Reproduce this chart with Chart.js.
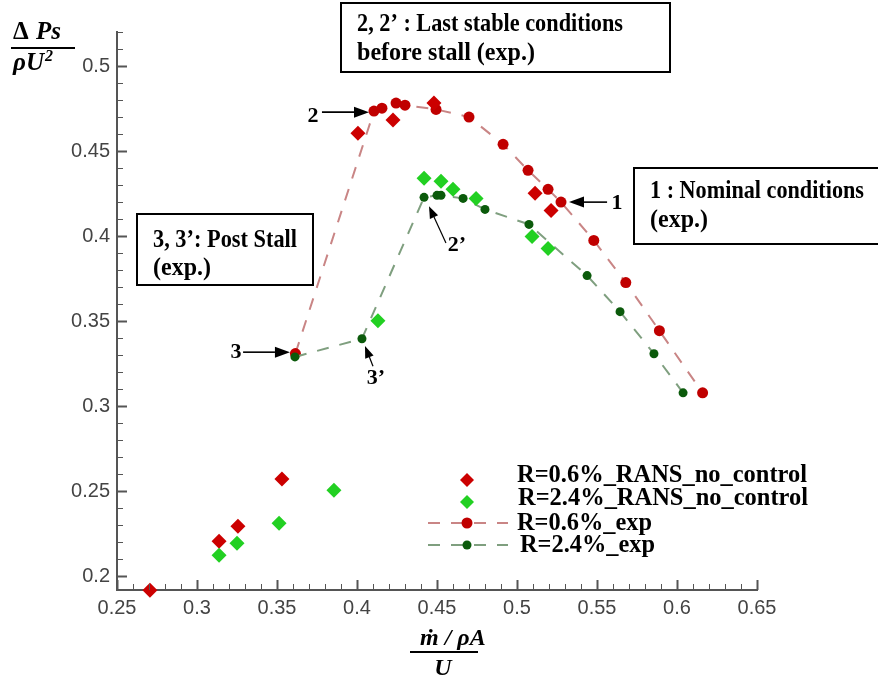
<!DOCTYPE html>
<html>
<head>
<meta charset="utf-8">
<script src="https://cdn.jsdelivr.net/npm/chart.js@4.4.1/dist/chart.umd.min.js"></script>
<style>
  html, body { margin: 0; padding: 0; background: #fff; }
  #c { display: block; }
</style>
</head>
<body>
<canvas id="c" width="878" height="678"></canvas>
<script>
// tick labels
const xTicks = [0.25, 0.3, 0.35, 0.4, 0.45, 0.5, 0.55, 0.6, 0.65];
const yTicks = [0.2, 0.25, 0.3, 0.35, 0.4, 0.45, 0.5];

// R=0.6% RANS no control (red diamonds)
const rans06X = [0.2706, 0.3138, 0.3256, 0.3531, 0.4006, 0.4225, 0.4481, 0.5113, 0.5213];
const rans06Y = [0.1918, 0.2207, 0.2295, 0.2572, 0.4605, 0.4682, 0.4782, 0.4252, 0.4151];

// R=2.4% RANS no control (green diamonds)
const rans24X = [0.3138, 0.325, 0.3513, 0.3856, 0.4131, 0.4419, 0.4525, 0.46, 0.4744, 0.5094, 0.5194];
const rans24Y = [0.2124, 0.2195, 0.2313, 0.2507, 0.3503, 0.434, 0.4322, 0.4275, 0.4222, 0.3998, 0.3928];

// R=0.6% experiment
const exp06X = [0.3615, 0.4106, 0.4156, 0.4244, 0.43, 0.4494, 0.47, 0.4913, 0.5069, 0.5194, 0.5275, 0.548, 0.568, 0.589, 0.616];
const exp06Y = [0.331, 0.4735, 0.4752, 0.4782, 0.477, 0.4745, 0.470, 0.454, 0.4387, 0.4275, 0.420, 0.3975, 0.3727, 0.3444, 0.3079];

// R=2.4% experiment
const exp24X = [0.3612, 0.4031, 0.4419, 0.45, 0.4525, 0.4663, 0.48, 0.5075, 0.5438, 0.5644, 0.5856, 0.6038];
const exp24Y = [0.329, 0.3397, 0.4228, 0.424, 0.424, 0.4222, 0.4157, 0.4069, 0.3768, 0.3556, 0.3309, 0.3079];

const RED_D = "#cc0000", GREEN_D = "#22d022";
const RED_C = "#c00000", GREEN_C = "#0b5a0b";
const RED_L = "#c98585", GREEN_L = "#7f9f7f";
const SERIF = '"Liberation Serif", "Times New Roman", serif';
const SANS = '"Liberation Sans", Arial, Helvetica, sans-serif';

const pts = (xs, ys) => xs.map((x, i) => ({ x: x, y: ys[i] }));

function arrow(ctx, x1, y1, x2, y2, lw, hl, hw) {
  const a = Math.atan2(y2 - y1, x2 - x1);
  const bx = x2 - hl * Math.cos(a), by = y2 - hl * Math.sin(a);
  ctx.save();
  ctx.strokeStyle = "#000";
  ctx.fillStyle = "#000";
  ctx.lineWidth = lw;
  ctx.beginPath();
  ctx.moveTo(x1, y1);
  ctx.lineTo(bx, by);
  ctx.stroke();
  ctx.beginPath();
  ctx.moveTo(x2, y2);
  ctx.lineTo(bx + hw / 2 * Math.sin(a), by - hw / 2 * Math.cos(a));
  ctx.lineTo(bx - hw / 2 * Math.sin(a), by + hw / 2 * Math.cos(a));
  ctx.closePath();
  ctx.fill();
  ctx.restore();
}

function diamond(ctx, x, y, r, color) {
  ctx.fillStyle = color;
  ctx.beginPath();
  ctx.moveTo(x - r, y); ctx.lineTo(x, y - r); ctx.lineTo(x + r, y); ctx.lineTo(x, y + r);
  ctx.closePath();
  ctx.fill();
}

function dot(ctx, x, y, r, color) {
  ctx.fillStyle = color;
  ctx.beginPath();
  ctx.arc(x, y, r, 0, Math.PI * 2);
  ctx.fill();
}

const overlay = {
  id: "overlay",
  afterDraw(chart) {
    const ctx = chart.ctx;
    const xs = chart.scales.x, ys = chart.scales.y;
    const area = chart.chartArea;
    const px = v => xs.getPixelForValue(v);
    const py = v => ys.getPixelForValue(v);
    ctx.save();

    // inward tick marks
    ctx.strokeStyle = "#555";
    for (let i = 20; i <= 52; i++) {
      const y = Math.round(py(i / 100)) + 0.5;
      const major = i % 5 === 0;
      ctx.lineWidth = major ? 2 : 1;
      ctx.beginPath();
      ctx.moveTo(area.left, y);
      ctx.lineTo(area.left + (major ? 10 : 6), y);
      ctx.stroke();
    }
    for (let i = 25; i <= 65; i++) {
      const x = Math.round(px(i / 100)) + 0.5;
      const major = i % 5 === 0;
      ctx.lineWidth = major ? 2 : 1;
      ctx.beginPath();
      ctx.moveTo(x, area.bottom);
      ctx.lineTo(x, area.bottom - (major ? 10 : 6));
      ctx.stroke();
    }

    // axis titles
    ctx.fillStyle = "#000";
    ctx.textBaseline = "alphabetic";
    ctx.textAlign = "left";
    ctx.font = "bold 25px " + SERIF;
    ctx.fillText("\u0394", 13, 39);
    ctx.font = "italic bold 25px " + SERIF;
    ctx.fillText("Ps", 36, 39);
    ctx.fillText("\u03c1U", 13, 70);
    const uw = ctx.measureText("\u03c1U").width;
    ctx.font = "italic bold 16px " + SERIF;
    ctx.fillText("2", 13 + uw + 1, 61);
    ctx.fillRect(11, 47, 64, 2);

    ctx.font = "italic bold 24px " + SERIF;
    ctx.fillText("\u1e41 / \u03c1A", 420, 645);
    ctx.fillRect(410, 651, 68, 2);
    ctx.textAlign = "center";
    ctx.fillText("U", 443, 675);

    // text boxes
    ctx.textAlign = "left";
    ctx.lineWidth = 2;
    ctx.strokeStyle = "#000";
    const boxes = [
      { x: 341, y: 3, w: 329, h: 69, lines: ["2, 2\u2019 : Last stable conditions", "before stall (exp.)"], b: [31, 60], widths: [266, 178] },
      { x: 634, y: 168, w: 250, h: 76, lines: ["1 : Nominal conditions", "(exp.)"], b: [198, 227], widths: [214, 58] },
      { x: 137, y: 214, w: 176, h: 71, lines: ["3, 3\u2019: Post Stall", "(exp.)"], b: [247, 275], widths: [144, 58] }
    ];
    boxes.forEach(bx => {
      ctx.fillStyle = "#fff";
      ctx.fillRect(bx.x, bx.y, bx.w, bx.h);
      ctx.strokeRect(bx.x, bx.y, bx.w, bx.h);
      ctx.fillStyle = "#000";
      ctx.font = "bold 25px " + SERIF;
      bx.lines.forEach((t, i) => ctx.fillText(t, bx.x + 16, bx.b[i], bx.widths[i]));
    });

    // point labels with arrows (placed in data units)
    ctx.font = "bold 22px " + SERIF;
    ctx.textAlign = "center";
    ctx.textBaseline = "middle";
    ctx.fillStyle = "#000";
    ctx.fillText("2", px(0.3725), py(0.4705));
    arrow(ctx, px(0.3781), py(0.4729), px(0.4075), py(0.4729), 1.6, 15, 11);
    ctx.fillText("1", px(0.5625), py(0.4195));
    arrow(ctx, px(0.5563), py(0.42), px(0.5325), py(0.42), 1.6, 15, 11);
    ctx.fillText("3", px(0.3244), py(0.3318));
    arrow(ctx, px(0.3288), py(0.3318), px(0.3581), py(0.3318), 1.6, 15, 11);
    ctx.fillText("3\u2019", px(0.4118), py(0.3165));
    arrow(ctx, px(0.41), py(0.3235), px(0.405), py(0.3355), 1.2, 12, 9);
    ctx.fillText("2\u2019", px(0.4625), py(0.3945));
    arrow(ctx, px(0.4556), py(0.3959), px(0.445), py(0.4176), 1.2, 12, 9);

    // legend
    ctx.textAlign = "left";
    ctx.textBaseline = "alphabetic";
    ctx.font = "bold 25px " + SERIF;
    diamond(ctx, 467, 480, 7, RED_D);
    diamond(ctx, 467, 502, 7, GREEN_D);
    ctx.lineWidth = 2;
    ctx.setLineDash([12, 11]);
    ctx.strokeStyle = RED_L;
    ctx.beginPath(); ctx.moveTo(428, 523); ctx.lineTo(508, 523); ctx.stroke();
    ctx.strokeStyle = GREEN_L;
    ctx.beginPath(); ctx.moveTo(428, 545); ctx.lineTo(508, 545); ctx.stroke();
    ctx.setLineDash([]);
    dot(ctx, 467, 523, 5.5, RED_C);
    dot(ctx, 467, 545, 4.5, GREEN_C);
    ctx.fillStyle = "#000";
    ctx.fillText("R=0.6%_RANS_no_control", 517, 482, 290);
    ctx.fillText("R=2.4%_RANS_no_control", 518, 505, 290);
    ctx.fillText("R=0.6%_exp", 517, 530, 135);
    ctx.fillText("R=2.4%_exp", 520, 552, 135);

    ctx.restore();
  }
};

new Chart(document.getElementById("c"), {
  type: "scatter",
  data: {
    datasets: [
      {
        label: "R=2.4%_RANS_no_control",
        data: pts(rans24X, rans24Y),
        pointStyle: "rectRot",
        pointRadius: 7.5,
        backgroundColor: GREEN_D,
        borderWidth: 0,
        order: 1,
        clip: false,
      },
      {
        label: "R=0.6%_RANS_no_control",
        data: pts(rans06X, rans06Y),
        pointStyle: "rectRot",
        pointRadius: 7.5,
        backgroundColor: RED_D,
        borderWidth: 0,
        order: 2,
        clip: false,
      },
      {
        label: "R=2.4%_exp",
        data: pts(exp24X, exp24Y),
        showLine: true,
        borderColor: GREEN_L,
        borderWidth: 2,
        borderDash: [12, 11],
        pointRadius: 4.5,
        pointBackgroundColor: GREEN_C,
        pointBorderWidth: 0,
        order: 3,
      },
      {
        label: "R=0.6%_exp",
        data: pts(exp06X, exp06Y),
        showLine: true,
        borderColor: RED_L,
        borderWidth: 2,
        borderDash: [12, 11],
        pointRadius: 5.5,
        pointBackgroundColor: RED_C,
        pointBorderWidth: 0,
        order: 4,
      },
    ],
  },
  options: {
    responsive: false,
    animation: false,
    layout: { padding: { left: 57, right: 121, top: 32, bottom: 48 } },
    plugins: {
      legend: { display: false },
      tooltip: { enabled: false },
    },
    scales: {
      x: {
        type: "linear",
        min: 0.25,
        max: 0.65,
        afterBuildTicks: s => { s.ticks = xTicks.map(v => ({ value: v })); },
        afterFit: s => { s.height = 40; },
        grid: { display: false, drawTicks: false },
        border: { display: true, color: "#555", width: 2 },
        ticks: {
          callback: v => String(v),
          font: { family: SANS, size: 20 },
          color: "#444",
          padding: 6,
          maxRotation: 0,
        },
      },
      y: {
        type: "linear",
        min: 0.192,
        max: 0.52,
        afterBuildTicks: s => { s.ticks = yTicks.map(v => ({ value: v })); },
        afterFit: s => { s.width = 60; },
        grid: { display: false, drawTicks: false },
        border: { display: true, color: "#555", width: 2 },
        ticks: {
          callback: v => String(v),
          font: { family: SANS, size: 20 },
          color: "#444",
          padding: 7,
        },
      },
    },
  },
  plugins: [overlay],
});
</script>
</body>
</html>
